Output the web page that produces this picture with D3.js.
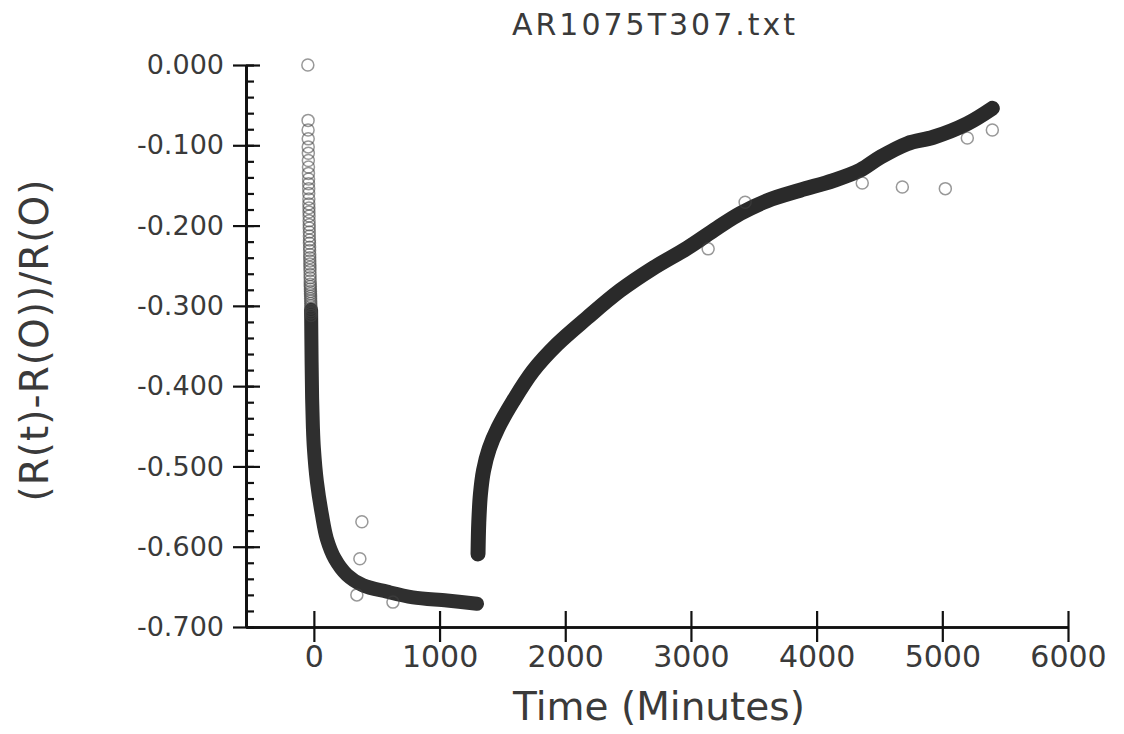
<!DOCTYPE html>
<html>
<head>
<meta charset="utf-8">
<script src="https://cdn.jsdelivr.net/npm/d3@7"></script>
<style>
  body { margin: 0; background: #fff; }
  svg { display: block; }
  text { font-family: "DejaVu Sans", sans-serif; fill: #3a3a3a; }
</style>
</head>
<body>
<svg width="1124" height="734"></svg>
<script>
  // run 1: early drop, individual circles at the top of the column [t, value]
  const dropPoints = [
    [-48, 0.000], [-46, -0.069], [-46, -0.081], [-45, -0.092], [-45, -0.102],
    [-44, -0.110], [-44, -0.119], [-43, -0.127], [-43, -0.135], [-42, -0.142],
    [-42, -0.148], [-41, -0.154], [-41, -0.160], [-40, -0.167], [-40, -0.173],
    [-39, -0.178], [-39, -0.183], [-38, -0.188], [-38, -0.194], [-37, -0.199],
    [-37, -0.203], [-36, -0.208], [-36, -0.213], [-35, -0.218], [-35, -0.222],
    [-34, -0.227], [-34, -0.231], [-33, -0.236], [-33, -0.240], [-32, -0.244],
    [-32, -0.248], [-31, -0.252], [-31, -0.256], [-30, -0.261], [-30, -0.265],
    [-29, -0.269], [-29, -0.273], [-28, -0.276], [-28, -0.279], [-27, -0.282],
    [-27, -0.285], [-26, -0.288], [-26, -0.291], [-25, -0.294], [-25, -0.297],
    [-24, -0.300], [-24, -0.303], [-23, -0.306], [-23, -0.309], [-22, -0.312]
  ];
  // run 1: dense part of the decay (band)
  const run1 = [
    [-22, -0.305], [-18, -0.370], [-14, -0.415], [-8, -0.450], [0, -0.477],
    [24, -0.519], [64, -0.560], [103, -0.590], [167, -0.615], [263, -0.635],
    [390, -0.648], [581, -0.656], [788, -0.663], [1059, -0.667], [1298, -0.671]
  ];
  // run 2: recovery
  const run2 = [
    [1306, -0.609], [1312, -0.570], [1325, -0.535], [1350, -0.505], [1395, -0.478],
    [1465, -0.452], [1584, -0.419], [1744, -0.381], [1935, -0.348], [2174, -0.315],
    [2436, -0.281], [2699, -0.253], [2970, -0.228], [3209, -0.203], [3392, -0.185],
    [3607, -0.169], [3869, -0.156], [4132, -0.144], [4347, -0.131], [4506, -0.115],
    [4721, -0.098], [4928, -0.090], [5199, -0.073], [5398, -0.054]
  ];
  // stray points off the band
  const strays = [
    [382, -0.569], [366, -0.615], [342, -0.660], [629, -0.669],
    [3137, -0.229], [3431, -0.171], [4363, -0.147], [4682, -0.152],
    [5024, -0.154], [5199, -0.091], [5398, -0.081]
  ];

  const xTicks = [0, 1000, 2000, 3000, 4000, 5000, 6000];
  const yTicks = [0, -0.1, -0.2, -0.3, -0.4, -0.5, -0.6, -0.7];
  const yMinor = d3.range(0, 36).map(i => -i * 0.02);

  const svg = d3.select('svg');

  const x = d3.scaleLinear().domain([-540, 6000]).range([246, 1068]);
  const y = d3.scaleLinear().domain([-0.7, 0]).range([627, 65]);

  // title
  svg.append('text')
    .attr('x', 655).attr('y', 35)
    .attr('text-anchor', 'middle')
    .attr('font-size', 30)
    .attr('letter-spacing', 3)
    .text('AR1075T307.txt');

  // data
  const line = d3.line().x(d => x(d[0])).y(d => y(d[1])).curve(d3.curveCatmullRom);

  svg.append('path')
    .attr('d', line(run1))
    .attr('fill', 'none')
    .attr('stroke', '#2f2f2f')
    .attr('stroke-width', 14)
    .attr('stroke-linecap', 'round')
    .attr('stroke-linejoin', 'round');

  svg.append('path')
    .attr('d', line(run2))
    .attr('fill', 'none')
    .attr('stroke', '#2a2a2a')
    .attr('stroke-width', 15)
    .attr('stroke-linecap', 'round')
    .attr('stroke-linejoin', 'round');

  svg.append('g')
    .selectAll('circle')
    .data(dropPoints.concat(strays))
    .enter().append('circle')
    .attr('cx', d => x(d[0]))
    .attr('cy', d => y(d[1]))
    .attr('r', 6)
    .attr('fill', 'none')
    .attr('stroke', '#444')
    .attr('stroke-opacity', 0.55)
    .attr('stroke-width', 1.5);

  // axes
  const gx = svg.append('g')
    .attr('transform', 'translate(0,627)')
    .call(d3.axisBottom(x).tickValues(xTicks).tickSize(15).tickSizeOuter(0).tickPadding(4)
      .tickFormat(d3.format('d')));
  svg.append('g')
    .attr('transform', 'translate(0,627)')
    .call(d3.axisTop(x).tickValues(xTicks).tickSize(16).tickSizeOuter(0).tickFormat(''));
  gx.selectAll('text').attr('font-size', 30);

  const gy = svg.append('g')
    .attr('transform', 'translate(246,0)')
    .call(d3.axisLeft(y).tickValues(yTicks).tickSize(13).tickSizeOuter(0).tickPadding(9)
      .tickFormat(d => d3.format('.3f')(d).replace('−', '-')));
  svg.append('g')
    .attr('transform', 'translate(246,0)')
    .call(d3.axisRight(y).tickValues(yTicks).tickSize(14).tickSizeOuter(0).tickFormat(''));
  svg.append('g')
    .attr('transform', 'translate(246,0)')
    .call(d3.axisRight(y).tickValues(yMinor).tickSize(8).tickSizeOuter(0).tickFormat(''));
  gy.selectAll('text').attr('font-size', 27);

  svg.selectAll('.domain').attr('stroke', '#111').attr('stroke-width', 2.6);
  svg.selectAll('.tick line').attr('stroke', '#111').attr('stroke-width', 2.2);

  // axis titles
  svg.append('text')
    .attr('x', 659).attr('y', 720)
    .attr('text-anchor', 'middle')
    .attr('font-size', 39)
    .text('Time (Minutes)');

  svg.append('text')
    .attr('transform', 'translate(48,340) rotate(-90)')
    .attr('text-anchor', 'middle')
    .attr('font-size', 39)
    .attr('letter-spacing', 1)
    .text('(R(t)-R(O))/R(O)');
</script>
</body>
</html>
